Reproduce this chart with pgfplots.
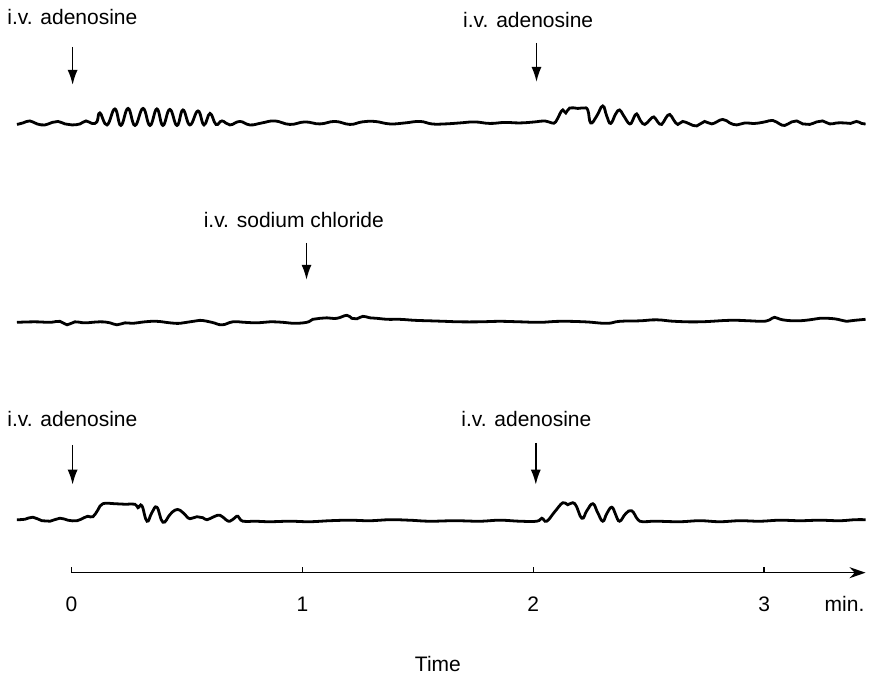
\documentclass[border=0pt]{standalone}
\usepackage{fontspec}
\setmainfont{Liberation Sans}
\usepackage{pgfplots}
\usepackage{pgfplotstable}
\pgfplotsset{compat=1.18}
\usetikzlibrary{arrows.meta}

% time in min, y = trace height (arbitrary units, traces stacked)
\pgfplotstableread{
t y
-0.236 448.5
-0.210 450
-0.180 452
-0.149 449
-0.115 448
-0.084 450.5
-0.058 451.5
-0.028 449
0.002 448
0.037 449
0.063 452
0.089 449.5
0.110 451
0.123 460
0.154 448
0.188 464
0.214 447.5
0.245 464.5
0.275 447.5
0.310 464.5
0.340 447.5
0.370 464
0.396 447.5
0.426 463.5
0.457 447.5
0.483 463
0.513 448
0.548 462
0.574 448
0.600 459.5
0.626 448.5
0.652 452
0.686 448
0.729 451.5
0.773 448
0.825 450
0.881 452
0.946 448.5
1.011 451
1.076 449
1.141 451.5
1.206 448.5
1.258 451
1.314 451.5
1.379 449
1.444 450
1.509 451.5
1.561 449
1.617 449
1.682 450
1.747 451
1.812 449.5
1.877 450.5
1.942 450
2.006 451
2.050 452
2.080 450
2.097 451
2.115 459
2.128 463
2.141 460
2.158 465
2.193 464.5
2.219 465
2.236 463
2.249 450
2.275 457
2.301 467
2.318 457
2.335 449.5
2.357 459
2.374 463
2.392 457
2.418 449
2.435 455
2.448 459
2.465 452
2.483 448.5
2.504 453
2.522 456
2.539 451
2.556 448.5
2.574 455
2.591 458.5
2.608 453
2.626 448.5
2.647 451.5
2.677 449
2.708 447
2.742 451.5
2.773 449
2.820 453.5
2.851 450
2.881 448
2.916 450
2.959 449.5
3.002 451
3.037 452.5
3.067 449
3.089 447.5
3.119 451
3.141 452
3.167 449
3.197 448.5
3.227 451
3.253 452
3.284 449
3.314 450
3.348 450
3.374 449.5
3.400 451.5
3.422 449.5
3.439 449
}\toptrace

\pgfplotstableread{
t y
-0.236 250.5
-0.158 251
-0.093 250.5
-0.050 251.5
-0.019 248
0.015 251
0.058 250
0.123 251
0.167 250
0.197 248
0.232 250
0.266 249.5
0.318 251
0.370 251.5
0.426 250
0.470 249.5
0.513 251
0.556 252.5
0.608 250.5
0.652 248
0.699 251
0.751 250.5
0.807 250
0.859 251
0.916 250.5
0.959 249.5
1.019 250.5
1.045 253.5
1.076 254.5
1.106 255
1.149 254.5
1.193 257.5
1.214 254.5
1.236 254
1.262 256.5
1.292 255
1.323 254.5
1.370 253.5
1.422 253.5
1.487 252.5
1.552 252
1.617 251.5
1.682 251
1.768 251
1.855 251.5
1.942 251
2.028 250.5
2.115 251.5
2.223 251
2.318 249.5
2.374 251.5
2.461 252
2.535 253
2.613 251.5
2.721 251
2.851 252.5
2.937 252
2.994 251.5
3.024 253
3.045 255.5
3.080 253
3.141 252
3.197 253
3.240 254.5
3.305 254
3.357 251.5
3.392 252.5
3.439 253.5
}\midtrace

\pgfplotstableread{
t y
-0.236 53
-0.201 53.5
-0.167 55.5
-0.128 52
-0.093 51.5
-0.050 54.5
-0.015 52.5
0.024 52
0.054 55
0.071 56.5
0.093 56
0.115 63
0.136 69
0.188 69
0.232 68.5
0.275 68.5
0.288 65
0.305 67
0.327 51.5
0.348 60
0.370 65.5
0.396 50.5
0.426 58
0.448 62.5
0.470 62.5
0.496 57
0.513 54
0.543 56
0.569 55
0.587 53
0.617 56
0.643 57.5
0.669 53
0.686 51.5
0.708 55
0.721 56.5
0.742 51.5
0.794 51.5
0.859 51
0.946 51.5
1.032 51
1.119 52
1.206 52.5
1.292 52
1.379 53
1.465 52.5
1.552 51.5
1.660 52
1.768 51.5
1.855 52.5
1.942 51.5
2.015 51.5
2.037 54.5
2.058 51.5
2.093 61
2.128 70
2.149 68
2.180 69
2.210 54.5
2.232 62
2.258 69
2.279 60
2.301 51.5
2.318 59
2.340 65.5
2.357 58
2.374 51.5
2.400 59
2.426 62
2.452 53.5
2.474 51
2.528 51.5
2.634 51
2.721 52
2.807 51
2.894 52
2.981 51.5
3.067 52.5
3.154 52
3.240 52.5
3.327 52
3.392 53
3.439 53
}\bottrace

\begin{document}
\begin{tikzpicture}
\begin{axis}[
  scale only axis,
  width=397.25pt, height=286.5pt,
  xmin=0, xmax=3.439, ymin=0, ymax=573,
  axis x line=bottom,
  axis y line=none,
  x axis line style={line width=0.75pt, -{Stealth[length=8pt,width=5.5pt]}},
  xtick={0,1,2,3},
  ytick=\empty,
  tick align=inside,
  major tick length=3pt,
  xtick style={line width=0.75pt, black},
  xticklabel style={font=\fontsize{10.5}{12}\selectfont, anchor=base, yshift=-19.5pt},
  /pgf/number format/assume math mode=true,
  clip=false,
]
% fixes the page to the reference frame
\path (axis cs:-0.3095,-108) rectangle (axis cs:3.461,573);

\addplot[black, line width=1.4pt, smooth, tension=0.75] table[x=t, y=y] {\toptrace};
\addplot[black, line width=1.4pt, smooth, tension=0.75] table[x=t, y=y] {\midtrace};
\addplot[black, line width=1.4pt, smooth, tension=0.75] table[x=t, y=y] {\bottrace};

\tikzset{lab/.style={anchor=base, font=\fontsize{10.5}{12}\selectfont},
         inj/.style={line width=0.8pt, -{Latex[length=7.5pt,width=5pt]}}}

\node[lab] at (axis cs:0.004,548) {i.v. adenosine};
\draw[inj] (axis cs:0.005,526) -- (axis cs:0.005,488);
\node[lab] at (axis cs:1.978,545) {i.v. adenosine};
\draw[inj] (axis cs:2.014,530) -- (axis cs:2.014,491);

\node[lab] at (axis cs:0.963,345) {i.v. sodium chloride};
\draw[inj] (axis cs:1.018,330) -- (axis cs:1.018,293);

\node[lab] at (axis cs:0.004,146) {i.v. adenosine};
\draw[inj] (axis cs:0.005,128) -- (axis cs:0.005,88);
\node[lab] at (axis cs:1.970,146) {i.v. adenosine};
\draw[inj] (axis cs:2.011,130) -- (axis cs:2.011,88);

\node[lab] at (axis cs:3.348,-39) {min.};
\node[lab] at (axis cs:1.587,-99) {Time};
\end{axis}
\end{tikzpicture}
\end{document}
